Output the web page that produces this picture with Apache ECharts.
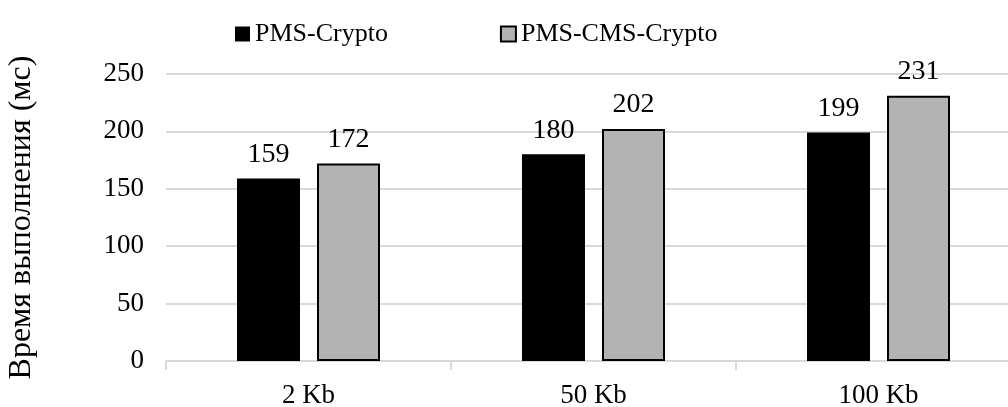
<!DOCTYPE html>
<html>
<head>
<meta charset="UTF-8">
<title>chart</title>
<script src="https://cdn.jsdelivr.net/npm/echarts@6/dist/echarts.min.js"></script>
<style>
  html, body { margin: 0; padding: 0; background: #fff; }
  #main { width: 1008px; height: 407px; }
</style>
</head>
<body>
<div id="main"></div>
<script>
var categories = ['2 Kb', '50 Kb', '100 Kb'];
var pmsCrypto = [159, 180, 199];
var pmsCmsCrypto = [172, 202, 231];
var yTicks = { min: 0, max: 250, interval: 50 };

var font = "'Liberation Serif', 'Times New Roman', serif";
var chart = echarts.init(document.getElementById('main'));

var option = {
    animation: false,
    textStyle: { fontFamily: font },
    legend: {
        top: 16,
        left: 230,
        icon: 'rect',
        itemWidth: 15,
        itemHeight: 15,
        itemGap: 112,
        textStyle: { fontFamily: font, fontSize: 26, color: '#000' },
        data: ['PMS-Crypto', 'PMS-CMS-Crypto']
    },
    // plot continues past the right edge of the picture
    grid: { left: 166, width: 855, top: 74, bottom: 46, outerBoundsMode: 'none', containLabel: false },
    xAxis: {
        type: 'category',
        data: categories,
        axisLine: { lineStyle: { color: '#d9d9d9', width: 2 } },
        axisTick: { show: true, length: 9, lineStyle: { color: '#d9d9d9', width: 2 } },
        axisLabel: { color: '#000', fontFamily: font, fontSize: 27, margin: 21 }
    },
    yAxis: {
        type: 'value',
        min: yTicks.min,
        max: yTicks.max,
        interval: yTicks.interval,
        name: 'Время выполнения (мс)',
        nameLocation: 'middle',
        nameGap: 128,
        nameTextStyle: { color: '#000', fontFamily: font, fontSize: 32 },
        axisLine: { show: false },
        axisTick: { show: false },
        axisLabel: { color: '#000', fontFamily: font, fontSize: 27, margin: 22 },
        splitLine: { lineStyle: { color: '#d9d9d9', width: 2 } }
    },
    series: [
        {
            name: 'PMS-Crypto',
            type: 'bar',
            data: pmsCrypto,
            barWidth: 63,
            barGap: '27%',
            itemStyle: { color: '#000' },
            label: { show: true, position: 'top', distance: 10, color: '#000', fontFamily: font, fontSize: 28 }
        },
        {
            name: 'PMS-CMS-Crypto',
            type: 'bar',
            data: pmsCmsCrypto,
            barWidth: 63,
            itemStyle: { color: '#b3b3b3', borderColor: '#000', borderWidth: 2 },
            label: { show: true, position: 'top', distance: 10, color: '#000', fontFamily: font, fontSize: 28 }
        }
    ]
};

chart.setOption(option);
</script>
</body>
</html>
